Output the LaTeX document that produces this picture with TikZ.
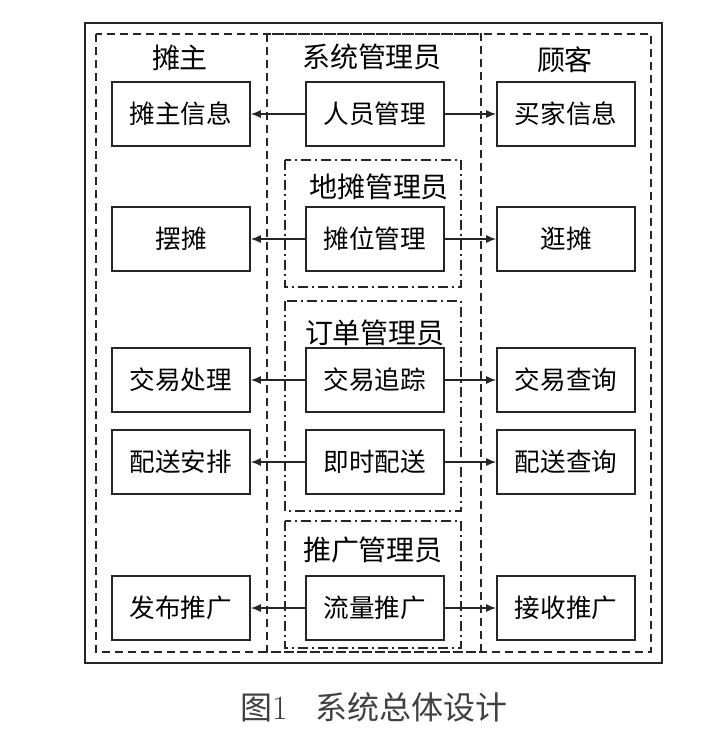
\documentclass[tikz,border=0pt]{standalone}
\usepackage{fontspec}
\newfontfamily\cjk{Noto Sans CJK SC}
\usetikzlibrary{arrows.meta}
\colorlet{myline}{black!85}
\colorlet{mycap}{black!75}

\tikzset{
  funcbox/.style={draw=myline, line width=0.9pt, minimum width=69pt, minimum height=32pt, inner sep=0pt, font=\cjk\fontsize{12.8pt}{12.8pt}\selectfont},
  rolelabel/.style={inner sep=0pt, font=\cjk\fontsize{14pt}{14pt}\selectfont},
  rolezone/.style={draw=myline, line width=0.8pt, dash pattern=on 5pt off 2pt on 1pt off 2pt},
  sidezone/.style={draw=myline, line width=0.8pt, dash pattern=on 4pt off 2.5pt},
  flow/.style={-{Latex[length=5pt,width=4pt]}, draw=myline, line width=0.6pt}
}

\begin{document}
\begin{tikzpicture}[x=0.5pt, y=-0.5pt]
\useasboundingbox (0,0) rectangle (701,741);
\draw[line width=1.3pt, draw=myline] (85,23) rectangle (662,663);
\draw[sidezone] (96,34) rectangle (651,652);
\draw[sidezone] (267,34) rectangle (481,652);
\draw[rolezone] (285,160) rectangle (461,287);
\draw[rolezone] (285,301) rectangle (461,511);
\draw[rolezone] (285,521) rectangle (461,648);

\node[rolelabel] (vendor) at (180,58) {摊主};
\node[rolelabel] (sysadm) at (372,57) {系统管理员};
\node[rolelabel] (buyer) at (565,60) {顾客};
\node[rolelabel] (stalladm) at (379,187) {地摊管理员};
\node[rolelabel] (orderadm) at (375,333) {订单管理员};
\node[rolelabel] (promoadm) at (373,550) {推广管理员};

\node[funcbox] (vinfo) at (181,114) {摊主信息};
\node[funcbox] (staff) at (375,114) {人员管理};
\node[funcbox] (binfo) at (566,114) {买家信息};

\node[funcbox] (setup) at (181,239) {摆摊};
\node[funcbox] (stall) at (375,239) {摊位管理};
\node[funcbox] (browse) at (566,239) {逛摊};

\node[funcbox] (deal) at (181,380) {交易处理};
\node[funcbox] (track) at (375,380) {交易追踪};
\node[funcbox] (dquery) at (566,380) {交易查询};

\node[funcbox] (arrange) at (181,462) {配送安排};
\node[funcbox] (deliver) at (375,462) {即时配送};
\node[funcbox] (squery) at (566,462) {配送查询};

\node[funcbox] (publish) at (181,608) {发布推广};
\node[funcbox] (traffic) at (375,608) {流量推广};
\node[funcbox] (receive) at (566,608) {接收推广};

\foreach \m/\l/\r in {staff/vinfo/binfo, stall/setup/browse, track/deal/dquery, deliver/arrange/squery, traffic/publish/receive}{
  \draw[flow] (\m) -- (\l);
  \draw[flow] (\m) -- (\r);
}

\node[inner sep=0pt, text=mycap, font=\cjk\fontsize{16pt}{16pt}\selectfont] (caption) at (374,707) {图{\rmfamily\fontsize{17pt}{17pt}\selectfont 1}\hspace{14pt}系统总体设计};
\end{tikzpicture}
\end{document}
